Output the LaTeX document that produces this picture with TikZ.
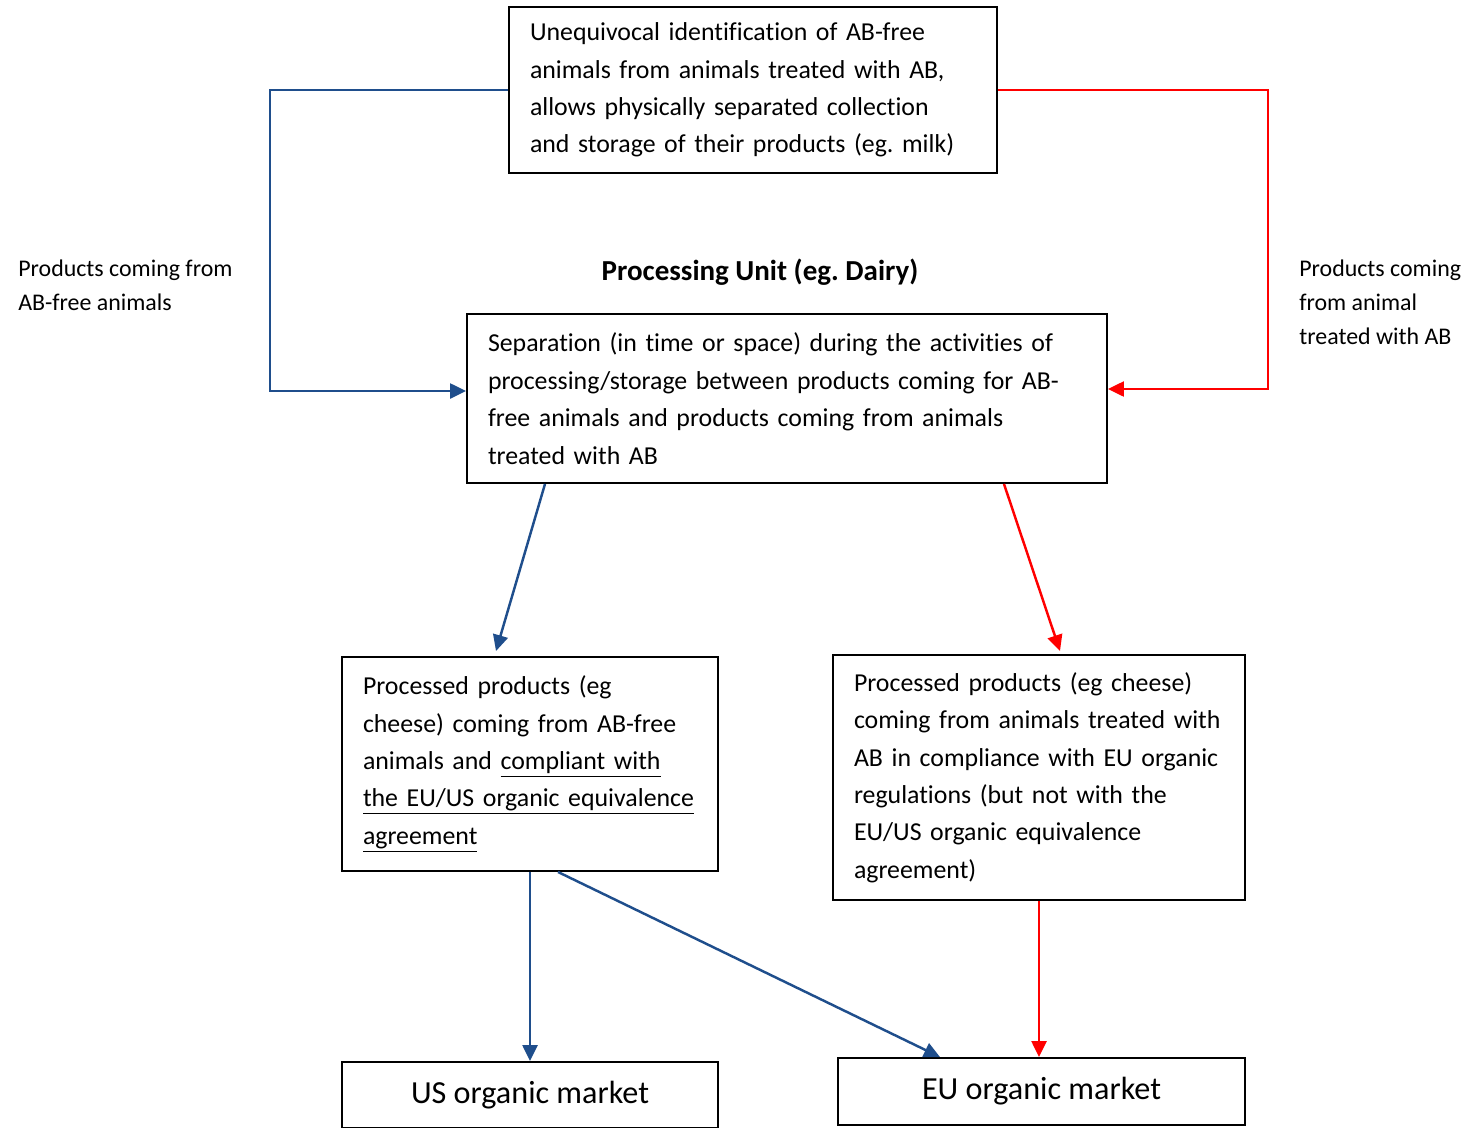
\documentclass[tikz,border=0pt]{standalone}
\usepackage{fontspec}
\setmainfont{Carlito}[Ligatures=NoCommon]
\usepackage{xcolor}
\definecolor{flowblue}{HTML}{1F4E8C}
\definecolor{flowred}{HTML}{FF0000}
\usepackage{tikz}
\usetikzlibrary{positioning, arrows.meta, calc}
\frenchspacing

\begin{document}
\begin{tikzpicture}[
    box/.style={draw, line width=1.1pt, inner xsep=0.42cm, inner ysep=0pt,
      align=left, font=\fontsize{14.7}{21.3}\selectfont},
    market/.style={draw, line width=1.1pt, align=center,
      font=\fontsize{18.3}{22}\selectfont},
    side/.style={align=left, anchor=west, inner sep=0pt,
      font=\fontsize{13.6}{19.3}\selectfont},
    bluearr/.style={draw=flowblue, line width=1.4pt,
      -{Triangle[length=0.32cm, width=0.30cm]}},
    redarr/.style={draw=flowred, line width=1.4pt,
      -{Triangle[length=0.32cm, width=0.30cm]}}]
  \useasboundingbox (0,0) rectangle (29.64,-22.54);

  % boxes
  \node[box, minimum width=9.76cm, minimum height=3.32cm, text width=8.92cm]
    (ident) at (15.06,-1.80)
    {Unequivocal identification of AB-free\\animals from animals treated with AB,\\
     allows physically separated collection\\and storage of their products (eg. milk)};
  \node[font=\bfseries\fontsize{16.5}{20}\selectfont] (unit) at (15.20,-5.44)
    {Processing Unit (eg. Dairy)};
  \node[box, minimum width=12.8cm, minimum height=3.38cm, text width=11.96cm]
    (proc) at (15.74,-7.97)
    {Separation (in time or space) during the activities of\\
     processing/storage between products coming for AB-\\
     free animals and products coming from animals\\treated with AB};
  \node[box, minimum width=7.52cm, minimum height=4.28cm, text width=6.68cm]
    (lprod) at (10.60,-15.28)
    {Processed products (eg\\cheese) coming from AB-free\\
     animals and \underline{compliant with}\\
     \underline{the EU/US organic equivalence}\\\underline{agreement}};
  \node[box, minimum width=8.24cm, minimum height=4.90cm, text width=7.40cm]
    (rprod) at (20.78,-15.55)
    {Processed products (eg cheese)\\coming from animals treated with\\
     AB in compliance with EU organic\\regulations (but not with the\\
     EU/US organic equivalence\\agreement)};
  \node[market, minimum width=7.52cm, minimum height=1.32cm]
    (us) at (10.60,-21.90) {US organic market};
  \node[market, minimum width=8.14cm, minimum height=1.34cm]
    (eu) at (20.83,-21.83) {EU organic market};

  % side labels
  \node[side] (lfree) at (0.36,-5.70) {Products coming from\\AB-free animals};
  \node[side] (ltreat) at (25.98,-6.04) {Products coming\\from animal\\treated with AB};

  % connectors
  \draw[bluearr] (ident.west) -- ++(-4.76,0) |- ([yshift=0.15cm]proc.west);
  \draw[redarr] (ident.east) -- ++(5.40,0) |- ([yshift=0.19cm]proc.east);
  \draw[bluearr] ([xshift=-4.84cm]proc.south) -- ([xshift=-0.68cm,yshift=0.10cm]lprod.north);
  \draw[redarr] ([xshift=4.34cm]proc.south) -- ([xshift=0.42cm,yshift=0.06cm]rprod.north);
  \draw[bluearr] (lprod.south) -- (us.north);
  \draw[bluearr] ([xshift=0.56cm]lprod.south) -- ([xshift=-2.03cm]eu.north);
  \draw[redarr] (rprod.south) -- (rprod.south |- eu.north);
\end{tikzpicture}
\end{document}
